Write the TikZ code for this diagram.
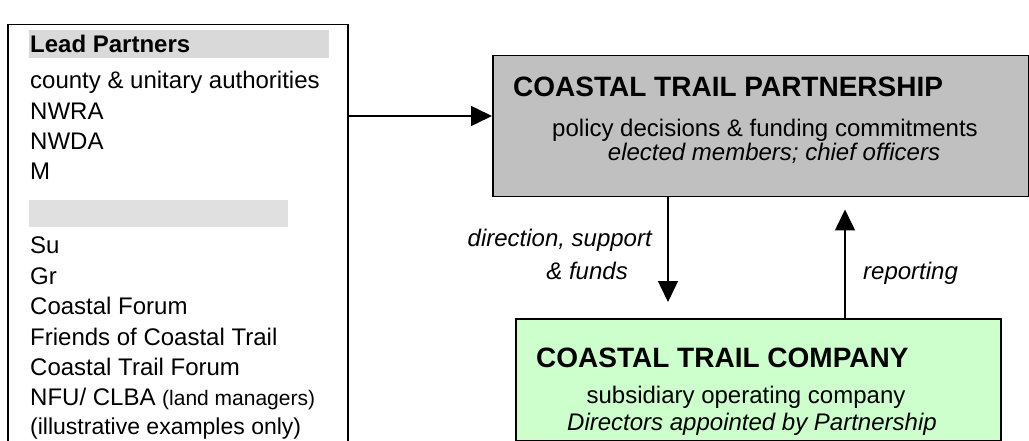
\documentclass[tikz,border=0pt]{standalone}
\usepackage{fontspec}
\setmainfont{Liberation Sans}
\usetikzlibrary{arrows.meta}
\definecolor{partgray}{HTML}{C0C0C0}
\definecolor{compgreen}{HTML}{CCFFCC}
\definecolor{bandA}{HTML}{D9D9D9}
\definecolor{bandB}{HTML}{E0E0E0}
\begin{document}
\begin{tikzpicture}[x=1pt,y=-1pt,
  frame/.style={draw=black,line width=1.5pt,inner sep=0pt,anchor=north west},
  band/.style={inner sep=0pt,anchor=north west},
  txt/.style={inner sep=0pt,anchor=base west,font=\fontsize{24}{30}\selectfont},
  ctxt/.style={inner sep=0pt,anchor=base,font=\fontsize{24}{30}\selectfont},
  rtxt/.style={inner sep=0pt,anchor=base east,font=\fontsize{24}{30}\selectfont\itshape},
  ttl/.style={inner sep=0pt,anchor=base west,font=\fontsize{28}{34}\selectfont\bfseries},
  arr/.style={line width=1.5pt,-{Triangle[length=21pt,width=20pt]}}]
\clip (0,0) rectangle (1029,441);
\fill[white] (0,0) rectangle (1029,441);
% boxes
\node[frame,minimum width=340pt,minimum height=460pt] (lead) at (7,24) {};
\node[frame,fill=partgray,minimum width=536pt,minimum height=141pt] (part) at (492,55) {};
\node[frame,fill=compgreen,minimum width=485pt,minimum height=122pt] (comp) at (515,318) {};
% bands
\node[band,fill=bandA,minimum width=300pt,minimum height=28pt] (bandA) at (29,30) {};
\node[band,fill=bandB,minimum width=259pt,minimum height=27pt] (bandB) at (29,200) {};
% left list
\node[txt,font=\fontsize{24}{30}\selectfont\bfseries] (lp) at (30,53) {Lead Partners};
\node[txt] (l1) at (30,89) {county \& unitary authorities};
\node[txt] (l2) at (30,120) {NWRA};
\node[txt] (l3) at (30,150) {NWDA};
\node[txt] (l4) at (30,180) {M};
\node[txt] (l5) at (30,254) {Su};
\node[txt] (l6) at (30,284) {Gr};
\node[txt] (l7) at (30,314) {Coastal Forum};
\node[txt] (l8) at (30,345) {Friends of Coastal Trail};
\node[txt] (l9) at (30,375) {Coastal Trail Forum};
\node[txt] (l10) at (30,405) {NFU/ CLBA {\fontsize{21}{26}\selectfont (land managers)}};
\node[txt,font=\fontsize{23}{28}\selectfont] (l11) at (30,434) {(illustrative examples only)};
% partnership text
\node[ttl] (pt) at (513,97) {COASTAL TRAIL PARTNERSHIP};
\node[ctxt] (p1) at (765,137) {policy decisions \& funding commitments};
\node[ctxt,font=\fontsize{24}{30}\selectfont\itshape] (p2) at (774,161) {elected members; chief officers};
% company text
\node[ttl] (ct) at (536,367) {COASTAL TRAIL COMPANY};
\node[ctxt] (c1) at (746,403) {subsidiary operating company};
\node[ctxt,font=\fontsize{24}{30}\selectfont\itshape] (c2) at (752,430) {Directors appointed by Partnership};
% labels
\node[rtxt] (d1) at (652,247) {direction, support};
\node[rtxt] (d2) at (628,279) {\& funds};
\node[txt,font=\fontsize{24}{30}\selectfont\itshape] (rep) at (863,279) {reporting};
% connectors
\coordinate (a1) at (347,116);
\coordinate (dx) at (668,0);
\coordinate (ux) at (845,0);
\draw[arr] (a1 -| lead.east) -- (a1 -| part.west);
\draw[arr,shorten >=16pt] (dx |- part.south) -- (dx |- comp.north);
\draw[arr,shorten >=12pt] (ux |- comp.north) -- (ux |- part.south);
\end{tikzpicture}
\end{document}
